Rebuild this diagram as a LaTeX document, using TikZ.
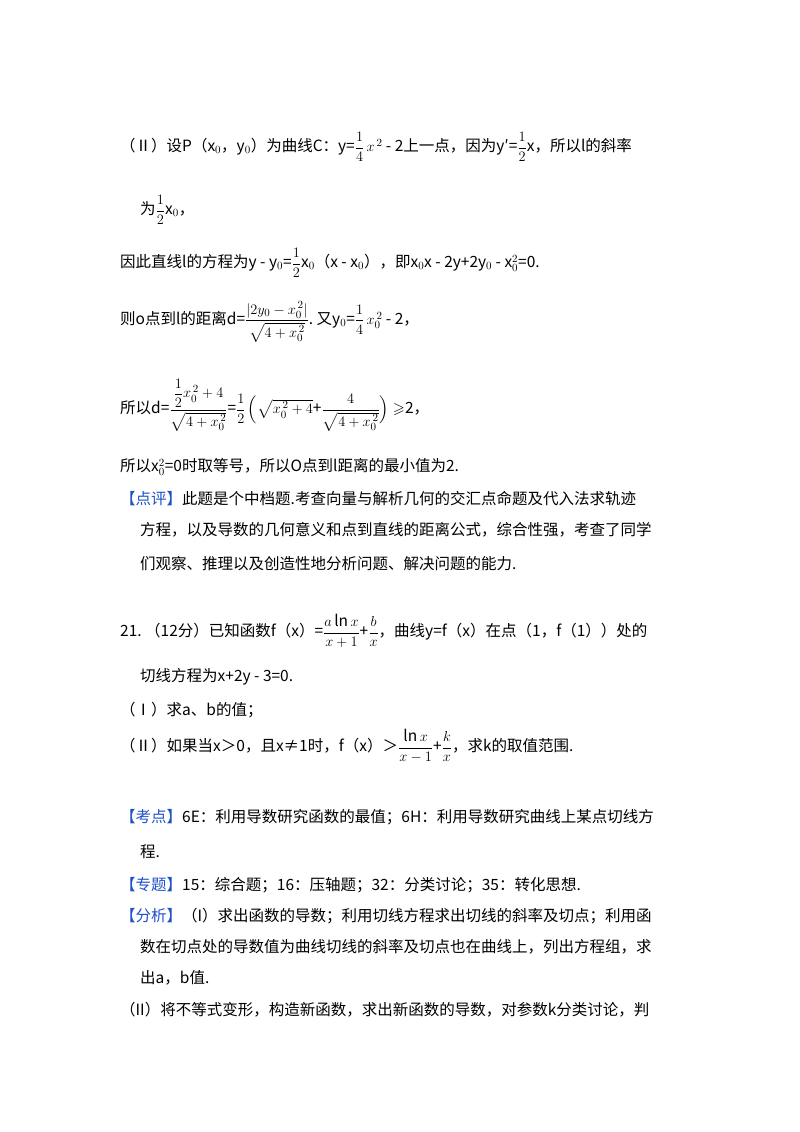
\documentclass[tikz,border=0pt]{standalone}
\usepackage{amsmath,amssymb}
\usepackage{fontspec}
\setmainfont{Noto Sans CJK SC}
\definecolor{tagblue}{RGB}{30,80,200}
\begin{document}
\begin{tikzpicture}[x=1pt,y=-1pt,
  ln/.style={anchor=west,inner sep=0pt,font=\fontsize{15.5}{18}\selectfont},
  tg/.style={text=tagblue}]
\useasboundingbox (0,0) rectangle (800,1132);
\node[ln] (l1) at (120,147) {（Ⅱ）设P（x$_0$，y$_0$）为曲线C：y=$\dfrac{1}{4}\,x^{\,2}$ - 2上一点，因为y′=$\dfrac{1}{2}$x，所以l的斜率};
\node[ln] (l2) at (140,210) {为$\dfrac{1}{2}$x$_0$，};
\node[ln] (l3) at (120,263) {因此直线l的方程为y - y$_0$=$\dfrac{1}{2}$x$_0$（x - x$_0$），即x$_0$x - 2y+2y$_0$ - x$_0^2$=0.};
\node[ln] (l4) at (120,322) {则o点到l的距离d=$\dfrac{|2y_0-x_0^{\,2}|}{\sqrt{4+x_0^{\,2}}}$.\ 又y$_0$=$\dfrac{1}{4}\,x_0^{\,2}$ - 2，};
\node[ln] (l5) at (120,405) {所以d=$\dfrac{\dfrac{1}{2}x_0^{\,2}+4}{\sqrt{4+x_0^{\,2}}}$=$\dfrac{1}{2}\,\Bigl(\sqrt{x_0^{\,2}+4}$+$\dfrac{4}{\sqrt{4+x_0^{\,2}}}\Bigr)\geqslant$2，};
\node[ln] (l6) at (120,467) {所以x$_0^2$=0时取等号，所以O点到l距离的最小值为2.};
\node[ln] (l7) at (120,499) {{\color{tagblue}【点评】}此题是个中档题.考查向量与解析几何的交汇点命题及代入法求轨迹};
\node[ln] (l8) at (140,530) {方程，以及导数的几何意义和点到直线的距离公式，综合性强，考查了同学};
\node[ln] (l9) at (140,564) {们观察、推理以及创造性地分析问题、解决问题的能力.};
\node[ln] (l10) at (120,631) {21.\ （12分）已知函数f（x）=$\dfrac{a\ln x}{x+1}$+$\dfrac{b}{x}$，曲线y=f（x）在点（1，f（1））处的};
\node[ln] (l11) at (140,677) {切线方程为x+2y - 3=0.};
\node[ln] (l12) at (120,710) {（Ⅰ）求a、b的值；};
\node[ln] (l13) at (120,746) {（Ⅱ）如果当x＞0，且x≠1时，f（x）＞$\dfrac{\ln x}{x-1}$+$\dfrac{k}{x}$，求k的取值范围.};
\node[ln] (l14) at (120,817) {{\color{tagblue}【考点】}6E：利用导数研究函数的最值；6H：利用导数研究曲线上某点切线方};
\node[ln] (l15) at (140,852) {程.};
\node[ln] (l16) at (120,885) {{\color{tagblue}【专题】}15：综合题；16：压轴题；32：分类讨论；35：转化思想.};
\node[ln] (l17) at (120,916) {{\color{tagblue}【分析】}（I）求出函数的导数；利用切线方程求出切线的斜率及切点；利用函};
\node[ln] (l18) at (140,947) {数在切点处的导数值为曲线切线的斜率及切点也在曲线上，列出方程组，求};
\node[ln] (l19) at (140,978) {出a，b值.};
\node[ln] (l20) at (120,1010) {（II）将不等式变形，构造新函数，求出新函数的导数，对参数k分类讨论，判};
\end{tikzpicture}
\end{document}
